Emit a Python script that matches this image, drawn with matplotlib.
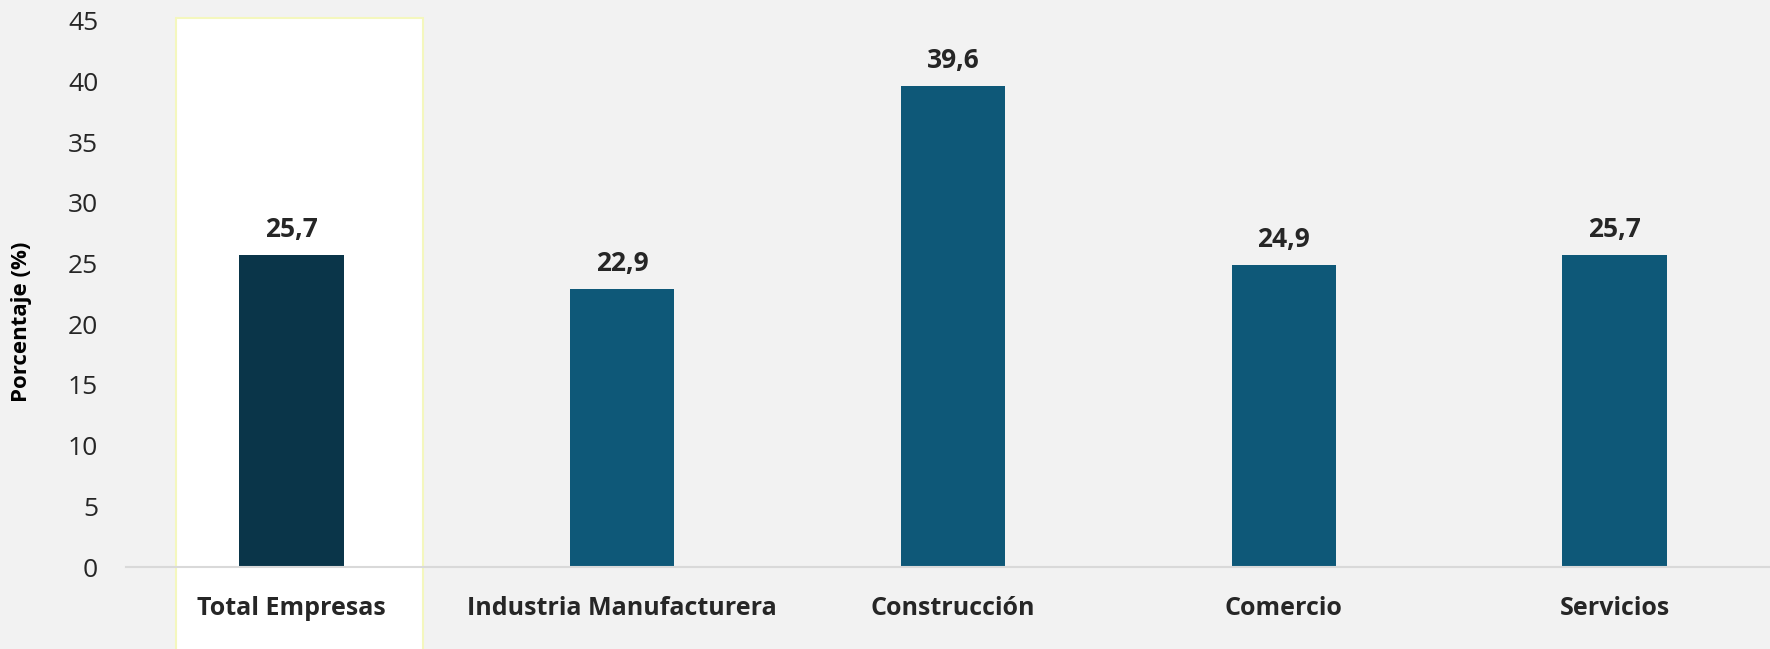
import matplotlib
matplotlib.use("Agg")
import matplotlib.pyplot as plt
import matplotlib.patches as patches
import matplotlib.transforms as transforms

# data
categories = ["Total Empresas", "Industria Manufacturera", "Construcción", "Comercio", "Servicios"]
values = [25.7, 22.9, 39.6, 24.9, 25.7]
value_labels = ["25,7", "22,9", "39,6", "24,9", "25,7"]
yticks = [0, 5, 10, 15, 20, 25, 30, 35, 40, 45]

plt.rcParams['font.family'] = ['Open Sans', 'DejaVu Sans']
bg = '#F2F2F2'
txt = '#262626'

fig = plt.figure(figsize=(17.7, 6.49), dpi=100, facecolor=bg)
ax = fig.add_axes([0.0712, 0.1263, 0.9288, 0.8418])
ax.patch.set_visible(False)

# highlight box behind the first category
trans = transforms.blended_transform_factory(ax.transData, fig.transFigure)
box = patches.Rectangle((-0.348, -0.01), 0.747, 0.982, transform=trans,
                        facecolor='white', edgecolor='#F4F7BE', linewidth=1.5,
                        clip_on=False, zorder=0)
ax.add_patch(box)

colors = ['#0A3549'] + ['#0E5878'] * (len(categories) - 1)
x = range(len(categories))
bars = ax.bar(x, values, width=0.315, color=colors, zorder=3)

for xi, v, lab in zip(x, values, value_labels):
    ax.annotate(lab, (xi, v), xytext=(0, 13), textcoords='offset points',
                ha='center', va='baseline', fontsize=19, fontweight='bold', color=txt)

ax.set_xlim(-0.5, 4.47)
ax.set_ylim(0, 45)
ax.set_yticks(yticks)
ax.set_yticklabels([str(t) for t in yticks], fontsize=19, color=txt)
ax.set_xticks(list(x))
ax.set_xticklabels(categories, fontsize=18, fontweight='bold', color=txt)
ax.tick_params(axis='y', length=0, pad=20)
ax.tick_params(axis='x', length=0, pad=21)

for s in ['top', 'right', 'left']:
    ax.spines[s].set_visible(False)
ax.spines['bottom'].set_color('#D9D9D9')
ax.spines['bottom'].set_linewidth(1.5)
ax.spines['bottom'].set_zorder(4)

ax.set_ylabel('Porcentaje (%)', fontsize=16, fontweight='bold', color='black')
ax.yaxis.set_label_coords(-0.057, 0.448)

fig.savefig('out.png', dpi=100, facecolor=bg)
